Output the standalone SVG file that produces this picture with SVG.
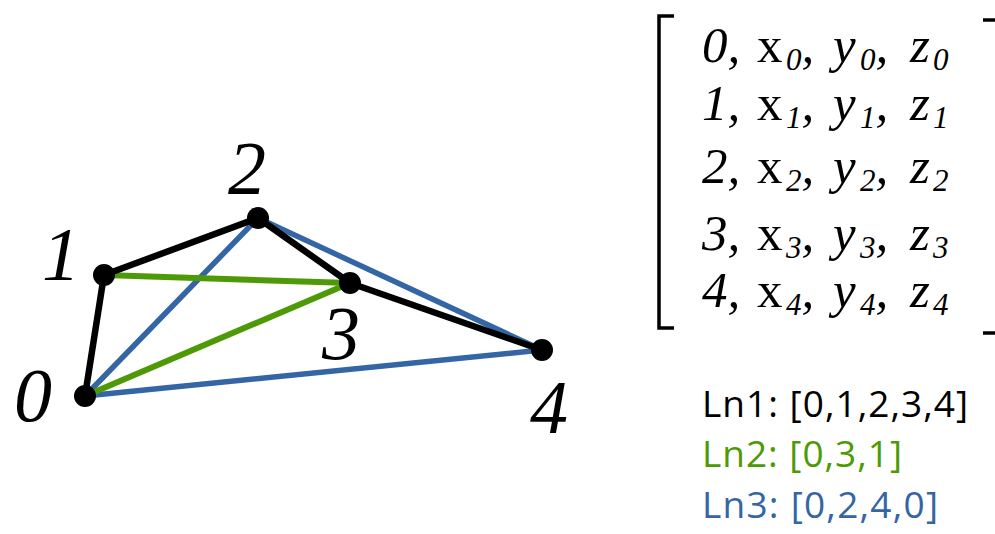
<svg xmlns="http://www.w3.org/2000/svg" width="995" height="534" viewBox="0 0 995 534">
<style>
.lbl{font-family:"Liberation Serif",serif;font-style:italic;font-size:76px;fill:#000;text-anchor:middle}
.m{font-family:"Liberation Serif",serif;font-style:italic;font-size:51px;fill:#000}
.up{font-style:normal}
.sub{font-size:31px}
.leg{font-family:"Open Sans","Noto Sans",sans-serif;font-size:37px}
.br{fill:none;stroke:#000;stroke-width:3.5}
.dot{fill:#000}
</style>
<rect width="995" height="534" fill="#fff"/>
<g id="connectors" fill="none" stroke-linecap="round" stroke-linejoin="round">
  <g id="ln3" stroke="#3465a4" stroke-width="5.5">
    <polyline points="85,396 258,218 542,350 85,396"/>
  </g>
  <g id="ln2" stroke="#4e9a06" stroke-width="6">
    <polyline points="85,396 350,283 104,275"/>
  </g>
  <g id="ln1" stroke="#000" stroke-width="6.5">
    <polyline points="85,396 104,275 258,218 350,283 542,350"/>
  </g>
</g>
<g id="node0"><circle class="dot" cx="85" cy="396" r="11"/><text class="lbl" x="33" y="421">0</text></g>
<g id="node1"><circle class="dot" cx="104" cy="275" r="11"/><text class="lbl" x="61" y="280">1</text></g>
<g id="node2"><circle class="dot" cx="258" cy="218" r="11"/><text class="lbl" x="247" y="194">2</text></g>
<g id="node3"><circle class="dot" cx="350" cy="283" r="11"/><text class="lbl" x="341" y="359">3</text></g>
<g id="node4"><circle class="dot" cx="542" cy="350" r="11"/><text class="lbl" x="549" y="433">4</text></g>
<g id="matrix">
  <polyline class="br" points="674,16 659,16 659,328 674,328"/>
  <line class="br" x1="983" y1="20" x2="995" y2="20"/>
  <line class="br" x1="983" y1="333" x2="995" y2="333"/>
  <text class="m" y="62"><tspan x="702">0,</tspan><tspan x="757" class="up">x</tspan><tspan x="786" dy="8" class="sub">0</tspan><tspan dy="-8">,</tspan><tspan x="833">y</tspan><tspan x="860" dy="8" class="sub">0</tspan><tspan dy="-8">,</tspan><tspan x="910">z</tspan><tspan x="933" dy="8" class="sub">0</tspan></text>
  <text class="m" y="120"><tspan x="702">1,</tspan><tspan x="757" class="up">x</tspan><tspan x="786" dy="8" class="sub">1</tspan><tspan dy="-8">,</tspan><tspan x="833">y</tspan><tspan x="860" dy="8" class="sub">1</tspan><tspan dy="-8">,</tspan><tspan x="910">z</tspan><tspan x="933" dy="8" class="sub">1</tspan></text>
  <text class="m" y="183"><tspan x="702">2,</tspan><tspan x="757" class="up">x</tspan><tspan x="786" dy="8" class="sub">2</tspan><tspan dy="-8">,</tspan><tspan x="833">y</tspan><tspan x="860" dy="8" class="sub">2</tspan><tspan dy="-8">,</tspan><tspan x="910">z</tspan><tspan x="933" dy="8" class="sub">2</tspan></text>
  <text class="m" y="250"><tspan x="702">3,</tspan><tspan x="757" class="up">x</tspan><tspan x="786" dy="8" class="sub">3</tspan><tspan dy="-8">,</tspan><tspan x="833">y</tspan><tspan x="860" dy="8" class="sub">3</tspan><tspan dy="-8">,</tspan><tspan x="910">z</tspan><tspan x="933" dy="8" class="sub">3</tspan></text>
  <text class="m" y="307"><tspan x="702">4,</tspan><tspan x="757" class="up">x</tspan><tspan x="786" dy="8" class="sub">4</tspan><tspan dy="-8">,</tspan><tspan x="833">y</tspan><tspan x="860" dy="8" class="sub">4</tspan><tspan dy="-8">,</tspan><tspan x="910">z</tspan><tspan x="933" dy="8" class="sub">4</tspan></text>
</g>
<g id="legend">
  <text class="leg" x="702" y="417" fill="#000" textLength="266">Ln1: [0,1,2,3,4]</text>
  <text class="leg" x="702" y="467" fill="#4e9a06" textLength="200">Ln2: [0,3,1]</text>
  <text class="leg" x="702" y="518" fill="#3465a4" textLength="236">Ln3: [0,2,4,0]</text>
</g>
</svg>
